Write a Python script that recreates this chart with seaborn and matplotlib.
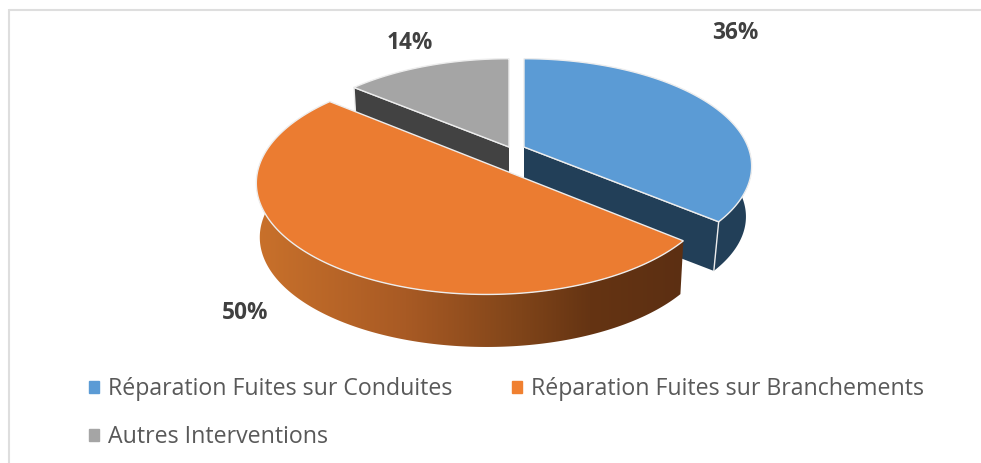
import numpy as np
import seaborn as sns
import matplotlib
matplotlib.use("Agg")
import matplotlib.pyplot as plt
from matplotlib.patches import Patch, Polygon
from matplotlib.colors import LinearSegmentedColormap

categories = ["Réparation Fuites sur Conduites", "Réparation Fuites sur Branchements", "Autres Interventions"]
values = [36, 50, 14]
labels = ["36%", "50%", "14%"]

sns.set_theme(style="white")
plt.rcParams["font.family"] = ["Open Sans", "DejaVu Sans"]

top_colors = sns.color_palette(["#5B9BD5", "#EB7C31", "#A5A5A5"])
wall_colors = ["#223F58", None, "#424242"]
edge = "#EDEDED"

fig = plt.figure(figsize=(9.81, 4.63), dpi=100)
ax = fig.add_axes([0, 0, 1, 1])
ax.set_xlim(0, 981)
ax.set_ylim(463, 0)
ax.axis("off")

# projected geometry of each slice: apex, radii, perspective, depth
geom = [
    dict(cx=524, cy=147, rx=224, ry=104, depth=51, shrink=0.975),
    dict(cx=486.5, cy=163.3, rx=226.5, ry=107.8, depth=54.5, shrink=0.985),
    dict(cx=509, cy=147, rx=224, ry=104, depth=51, shrink=0.98),
]
K = 0.178


def project(g, theta, low=False):
    X, Y = np.sin(theta), np.cos(theta)
    w = 1 + K * Y
    s = g["shrink"] if low else 1.0
    return (g["cx"] + s * g["rx"] * X / w,
            g["cy"] - s * g["ry"] * Y / w + (g["depth"] if low else 0))


def angles(a0, a1, n=160):
    return np.linspace(a0, a1, n)


fractions = np.array(values) / sum(values)
ends = np.cumsum(fractions) * 2 * np.pi
starts = ends - fractions * 2 * np.pi


def cut_wall(g, theta, color, z):
    x, y = project(g, np.array([theta]))
    xl, yl = project(g, np.array([theta]), low=True)
    ax0, ay0 = g["cx"], g["cy"]
    pts = [(ax0, ay0), (x[0], y[0]), (xl[0], yl[0]), (ax0, ay0 + g["depth"])]
    ax.add_patch(Polygon(pts, closed=True, fc=color, ec="none", zorder=z))
    ax.plot([ax0, x[0]], [ay0, y[0]], color=edge, lw=1, zorder=z + 0.1)
    ax.plot([x[0], xl[0]], [y[0], yl[0]], color=edge, lw=1, zorder=z + 0.1)


def outer_wall(g, a0, a1, z, color=None):
    th = angles(a0, a1)
    x, y = project(g, th)
    xl, yl = project(g, th, low=True)
    pts = np.column_stack([np.r_[x, xl[::-1]], np.r_[y, yl[::-1]]])
    p = Polygon(pts, closed=True, fc=color if color else "none", ec="none", zorder=z)
    ax.add_patch(p)
    return p


def top_face(g, a0, a1, color, z):
    th = angles(a0, a1, 240)
    x, y = project(g, th)
    pts = np.column_stack([np.r_[g["cx"], x], np.r_[g["cy"], y]])
    ax.add_patch(Polygon(pts, closed=True, fc=color, ec=edge, lw=1, joinstyle="miter", zorder=z))


# grey slice
cut_wall(geom[2], starts[2], wall_colors[2], 1)
top_face(geom[2], starts[2], ends[2], top_colors[2], 2)

# blue slice
cut_wall(geom[0], ends[0], wall_colors[0], 3)
outer_wall(geom[0], np.deg2rad(88), ends[0], 3, wall_colors[0])
top_face(geom[0], starts[0], ends[0], top_colors[0], 4)

# orange slice
wall = outer_wall(geom[1], starts[1], np.deg2rad(272), 5)
cmap = LinearSegmentedColormap.from_list(
    "wall", [(0, "#C9712B"), (0.35, "#A85A24"), (0.62, "#7F4419"), (0.78, "#653413"), (1, "#5C2F12")])
img = ax.imshow(np.linspace(0, 1, 256)[None, :], cmap=cmap, extent=(256, 685, 360, 190),
                aspect="auto", zorder=5)
img.set_clip_path(wall)
ax.set_xlim(0, 981)
ax.set_ylim(463, 0)
top_face(geom[1], starts[1], ends[1], top_colors[1], 6)

# data labels
label_pos = [(735, 33), (245, 313), (410, 43)]
for txt, (lx, ly) in zip(labels, label_pos):
    ax.text(lx, ly, txt, ha="center", va="center", fontsize=16.3, fontweight="bold", color="#404040", zorder=8)

# chart frame
ax.plot([9, 981], [9.5, 9.5], color="#DEDEDE", lw=1.5, zorder=0, solid_capstyle="butt")
ax.plot([9, 9], [9, 463], color="#DEDEDE", lw=1.5, zorder=0, solid_capstyle="butt")

# legend: first column blue + grey, second column orange
handles = [Patch(color=top_colors[0], label=categories[0]),
           Patch(color=top_colors[2], label=categories[2]),
           Patch(color="#F08030", label=categories[1])]
ax.legend(handles=handles, ncol=2, frameon=False, fontsize=16.7, labelcolor="#595959",
          loc="upper left", bbox_to_anchor=(89 / 981, 1 - 377 / 463), borderaxespad=0, borderpad=0,
          handlelength=0.42, handleheight=0.42, handletextpad=0.42, columnspacing=2.55, labelspacing=1.05)

fig.savefig("out.png", dpi=100, facecolor="white")
